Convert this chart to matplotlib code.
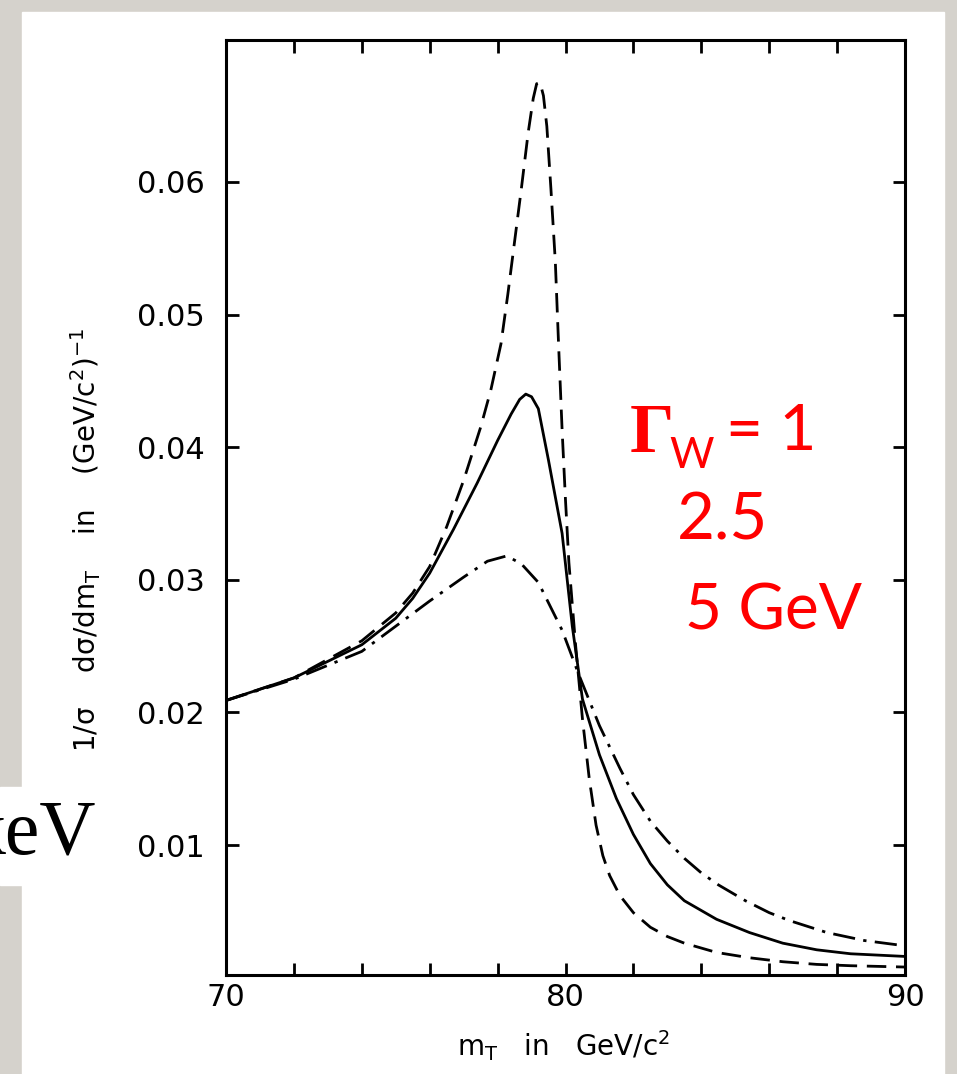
import numpy as np
import matplotlib.pyplot as plt
from matplotlib.patches import Rectangle
from matplotlib.ticker import FixedLocator, MultipleLocator

# transverse mass (GeV/c^2) and normalised distribution, one series per W width
# Gamma_W = 1 GeV (dashed)
x_g1 = [70, 72, 74, 75, 75.5, 76, 76.5, 77, 77.5, 77.8, 78.1, 78.3, 78.5, 78.7,
        78.9, 79.05, 79.15, 79.25, 79.35, 79.45, 79.57, 79.7, 79.8, 79.9, 80.0,
        80.1, 80.3, 80.5, 80.7, 80.9, 81.1, 81.3, 81.6, 82.0, 82.5, 83.0, 83.5,
        84.45, 85.42, 86.4, 87.4, 88.4, 90]
y_g1 = [0.0209, 0.0226, 0.0254, 0.0275, 0.0290, 0.0310, 0.0340, 0.0375, 0.0415,
        0.0443, 0.0478, 0.0515, 0.0555, 0.0595, 0.0637, 0.0663, 0.0674, 0.0675,
        0.0665, 0.0642, 0.0595, 0.0540, 0.0475, 0.0413, 0.0360, 0.0313, 0.0250,
        0.0195, 0.0150, 0.0115, 0.0092, 0.0077, 0.0062, 0.0049, 0.0038, 0.0031,
        0.0026, 0.0019, 0.0015, 0.0012, 0.0010, 0.0009, 0.0008]

# Gamma_W = 2.5 GeV (solid)
x_g25 = [70, 72, 74, 75, 75.5, 76, 76.7, 77.4, 78.0, 78.4, 78.65, 78.83, 79.0,
         79.2, 79.5, 79.9, 80.2, 80.5, 81.0, 81.5, 82.0, 82.5, 83.0, 83.5, 84.45,
         85.42, 86.4, 87.4, 88.4, 90]
y_g25 = [0.0209, 0.0226, 0.0251, 0.0271, 0.0286, 0.0305, 0.0338, 0.0373, 0.0405,
         0.0425, 0.0436, 0.0440, 0.0438, 0.0429, 0.0390, 0.0335, 0.0265, 0.0210,
         0.0168, 0.0135, 0.0108, 0.0086, 0.0070, 0.0058, 0.0044, 0.0034, 0.0026,
         0.0021, 0.0018, 0.0016]

# Gamma_W = 5 GeV (dash-dot)
x_g5 = [70, 72, 74, 76, 77, 77.7, 78.27, 78.7, 79.2, 79.9, 80.4, 81.0, 81.6, 82.0,
        82.5, 83.0, 83.5, 84.0, 84.5, 85.3, 86.0, 86.6, 87.7, 88.8, 90]
y_g5 = [0.0209, 0.0225, 0.0246, 0.0284, 0.0302, 0.0314, 0.0318, 0.0312, 0.0298,
        0.0262, 0.0228, 0.0190, 0.0158, 0.0138, 0.0118, 0.0103, 0.0090, 0.0079,
        0.0070, 0.0058, 0.0049, 0.0043, 0.0034, 0.0028, 0.0024]

y_ticks = [0.01, 0.02, 0.03, 0.04, 0.05, 0.06]
y_ticklabels = ["0.01", "0.02", "0.03", "0.04", "0.05", "0.06"]
x_ticks = [70, 80, 90]

W, H = 957, 1074


def fx(px):
    return px / W


def fy(py):
    return 1 - py / H


fig = plt.figure(figsize=(W / 100, H / 100), dpi=100)
fig.patch.set_facecolor("#d5d2cc")

# white slide panel and the clipped "keV" box on the left
fig.patches.append(Rectangle((fx(22), 0), fx(944) - fx(22), fy(12),
                             transform=fig.transFigure, color="white", zorder=-10))
fig.patches.append(Rectangle((0, fy(885)), fx(60), fy(787) - fy(885),
                             transform=fig.transFigure, color="white", zorder=-10))
fig.text(fx(96), fy(855), "keV", ha="right", va="baseline", fontsize=56,
         family="Liberation Serif", color="black")

ax = fig.add_axes([fx(226), fy(975), fx(905) - fx(226), fy(40) - fy(975)])
ax.set_zorder(2)
ax.set_facecolor("white")

ax.plot(x_g1, y_g1, color="black", lw=2.0, dashes=(7, 3.5))
ax.plot(x_g25, y_g25, color="black", lw=2.0)
ax.plot(x_g5, y_g5, color="black", lw=2.0, dashes=(8, 3, 1.2, 3))

ax.set_xlim(70, 90)
ax.set_ylim(0.0002, 0.0707)

for s in ax.spines.values():
    s.set_linewidth(2.2)

ax.xaxis.set_major_locator(FixedLocator(x_ticks))
ax.xaxis.set_minor_locator(MultipleLocator(2))
ax.yaxis.set_major_locator(FixedLocator(y_ticks))
ax.set_yticklabels(y_ticklabels)
ax.tick_params(axis="both", which="both", direction="in", top=True, right=True,
               width=2, length=9, labelsize=22)
ax.tick_params(axis="y", pad=15)
ax.tick_params(axis="x", pad=6)

fig.text(fx(86), fy(540),
         r"1/σ    dσ/dm$_\mathrm{T}$    in    (GeV/c$^2$)$^{-1}$",
         rotation=90, ha="center", va="center", fontsize=20)
fig.text(fx(564), fy(1046), r"m$_\mathrm{T}$   in   GeV/c$^2$", ha="center",
         va="center", fontsize=20)

# red annotation of the widths
red = "#ff0000"
fig.text(fx(630), fy(452), "Γ", ha="left", va="baseline", fontsize=50,
         family="Liberation Serif", weight="bold", color=red)
fig.text(fx(669), fy(468), "W", ha="left", va="baseline", fontsize=31,
         family="Lato", color=red)
fig.text(fx(726), fy(450), "= 1", ha="left", va="baseline", fontsize=46,
         family="Lato", color=red)
fig.text(fx(677), fy(540), "2.5", ha="left", va="baseline", fontsize=47,
         family="Lato", color=red)
fig.text(fx(685), fy(630), "5 GeV", ha="left", va="baseline", fontsize=46,
         family="Lato", color=red)

fig.savefig("out.png", dpi=100, facecolor=fig.get_facecolor())
